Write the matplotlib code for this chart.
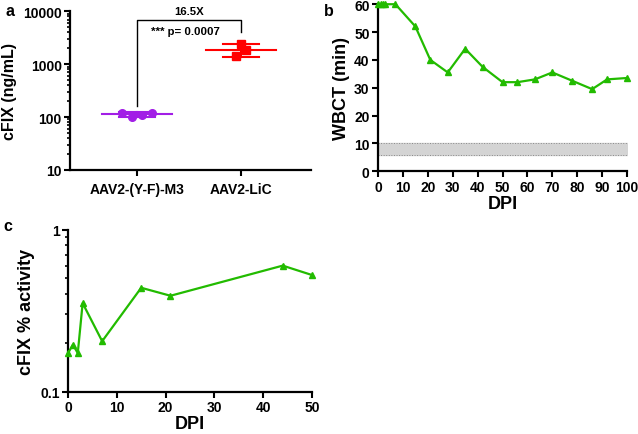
import matplotlib
matplotlib.use("Agg")
import matplotlib.pyplot as plt
import numpy as np
from matplotlib.ticker import LogLocator, NullFormatter, FixedLocator

plt.rcParams['font.family'] = ['Liberation Sans', 'DejaVu Sans']
plt.rcParams['font.weight'] = 'bold'

# Panel a data
groups = ["AAV2-(Y-F)-M3", "AAV2-LiC"]
m3_vals = [120, 100, 108, 122]
lic_vals = [2400, 1850, 1400]
m3_jit = [-0.145, -0.05, 0.05, 0.145]
lic_jit = [0.0, 0.05, -0.05]

# Panel b data
wbct_dpi = [0, 1, 2, 3, 7, 15, 21, 28, 35, 42, 50, 56, 63, 70, 78, 86, 92, 100]
wbct_min = [60, 60, 60, 60, 60, 52, 40, 35.5, 44, 37.5, 32, 32, 33, 35.5, 32.5, 29.5, 33, 33.5]
normal_range = (6, 10)

# Panel c data
act_dpi = [0, 1, 2, 3, 7, 15, 21, 44, 50]
act_pct = [0.173, 0.195, 0.173, 0.352, 0.205, 0.438, 0.391, 0.600, 0.525]

green = '#22bb00'
purple = '#a21ee6'
red = '#ff0000'
lw_sp = 1.6
lab_fs = 13

fig = plt.figure(figsize=(6.38, 4.35), dpi=100)

def style(ax):
    for s in ['top', 'right']:
        ax.spines[s].set_visible(False)
    for s in ['left', 'bottom']:
        ax.spines[s].set_linewidth(lw_sp)
    ax.tick_params(which='major', direction='out', length=4, width=1.5, labelsize=10, pad=2)
    ax.tick_params(which='minor', direction='out', length=2.5, width=1.2)
    for t in ax.get_xticklabels() + ax.get_yticklabels():
        t.set_fontweight('bold')

# ---- Panel a ----
axa = fig.add_axes([0.1097, 0.607, 0.4875 - 0.1097, 0.9717 - 0.607])
axa.set_yscale('log')
axa.set_ylim(10, 10000)
axa.set_xlim(-0.64, 1.67)
for i, (vals, jit, col, mk) in enumerate([(m3_vals, m3_jit, purple, 'o'), (lic_vals, lic_jit, red, 's')]):
    m = np.mean(vals)
    sd = np.std(vals, ddof=1)
    axa.plot([i - 0.333, i + 0.333], [m, m], color=col, lw=1.5, zorder=3)
    axa.plot([i - 0.17, i + 0.17], [m + sd, m + sd], color=col, lw=1.5, zorder=3)
    axa.plot([i - 0.17, i + 0.17], [m - sd, m - sd], color=col, lw=1.5, zorder=3)
    axa.plot([i, i], [m - sd, m + sd], color=col, lw=1.5, zorder=3)
    axa.plot(np.array(jit) + i, vals, linestyle='none', marker=mk, color=col, markersize=5.5, zorder=4)
axa.set_xticks([0, 1])
axa.set_xticklabels(groups)
axa.yaxis.set_major_locator(FixedLocator([10, 100, 1000, 10000]))
axa.set_yticklabels(['10', '100', '1000', '10000'])
axa.yaxis.set_minor_locator(LogLocator(base=10, subs=np.arange(2, 10)))
axa.yaxis.set_minor_formatter(NullFormatter())
axa.set_ylabel('cFIX (ng/mL)', fontsize=11.5, fontweight='bold', labelpad=4)
style(axa)
axa.tick_params(axis='x', labelsize=10, pad=5)
# bracket
axa.plot([0, 0, 1, 1], [160, 7000, 7000, 4000], color='black', lw=1)
axa.text(0.5, 8200, '16.5X', ha='center', va='bottom', fontsize=8.2, fontweight='bold')
axa.text(0.47, 4300, '*** p= 0.0007', ha='center', va='center', fontsize=8.2, fontweight='bold')
fig.text(0.008, 0.99, 'a', fontsize=11.5, fontweight='bold', va='top')

# ---- Panel b ----
axb = fig.add_axes([0.5925, 0.604, 0.9828 - 0.5925, 0.988 - 0.604])
axb.set_xlim(0, 100)
axb.set_ylim(0, 60)
axb.fill_between([0, 100], normal_range[0], normal_range[1], color='#d4d4d4', zorder=1)
axb.plot([0, 100], [normal_range[0]] * 2, color='#888888', lw=0.7, ls=':', zorder=2)
axb.plot([0, 100], [normal_range[1]] * 2, color='#888888', lw=0.7, ls=':', zorder=2)
axb.plot(wbct_dpi, wbct_min, color=green, lw=1.6, marker='^', markersize=5, clip_on=False, zorder=3)
axb.set_xticks(np.arange(0, 101, 10))
axb.set_yticks(np.arange(0, 61, 10))
axb.set_xlabel('DPI', fontsize=lab_fs, fontweight='bold', labelpad=1)
axb.set_ylabel('WBCT (min)', fontsize=lab_fs, fontweight='bold', labelpad=3)
style(axb)
fig.text(0.508, 0.99, 'b', fontsize=11.5, fontweight='bold', va='top')

# ---- Panel c ----
axc = fig.add_axes([0.1066, 0.0972, 0.489 - 0.1066, 0.4697 - 0.0972])
axc.set_yscale('log')
axc.set_xlim(0, 50)
axc.set_ylim(0.1, 1)
axc.plot(act_dpi, act_pct, color=green, lw=1.6, marker='^', markersize=5, clip_on=False, zorder=3)
axc.set_xticks(np.arange(0, 51, 10))
axc.yaxis.set_major_locator(FixedLocator([0.1, 1]))
axc.set_yticklabels(['0.1', '1'])
axc.yaxis.set_minor_locator(LogLocator(base=10, subs=np.arange(2, 10)))
axc.yaxis.set_minor_formatter(NullFormatter())
axc.set_xlabel('DPI', fontsize=lab_fs, fontweight='bold', labelpad=1)
axc.set_ylabel('cFIX % activity', fontsize=lab_fs, fontweight='bold', labelpad=4)
style(axc)
fig.text(0.006, 0.497, 'c', fontsize=11.5, fontweight='bold', va='top')

fig.savefig('out.png', dpi=100)
